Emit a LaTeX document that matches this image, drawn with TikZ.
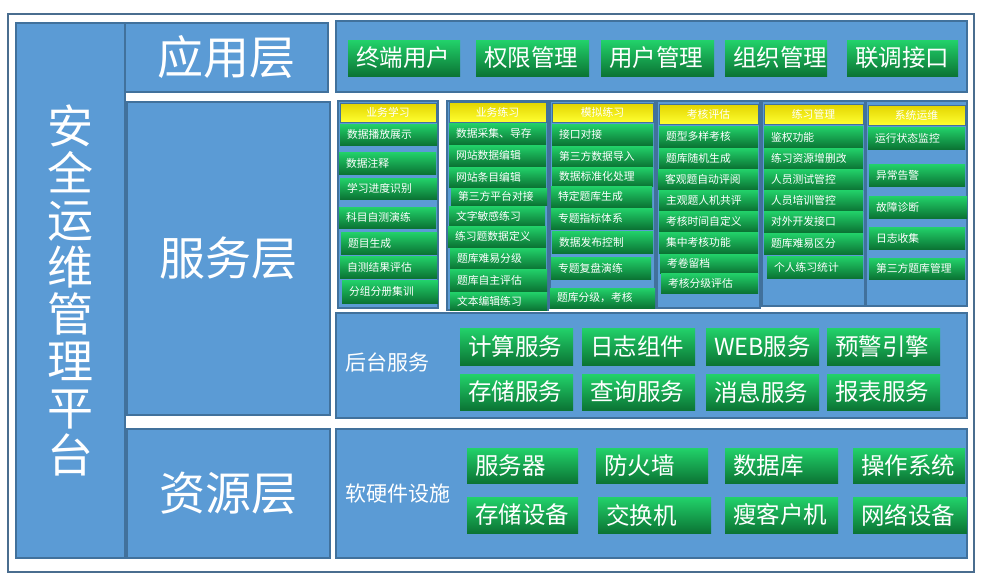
\documentclass[tikz,border=0pt]{standalone}
\usepackage{fontspec}
\setmainfont{Noto Sans CJK SC}
\definecolor{panel}{HTML}{5B9BD5}
\definecolor{pline}{HTML}{41719C}
\definecolor{frameline}{HTML}{4A6D8F}
\definecolor{gtop}{HTML}{22D26A}
\definecolor{gbot}{HTML}{0B7434}
\definecolor{ytop}{HTML}{E2D400}
\definecolor{ybot}{HTML}{FFFF30}
\tikzset{
  every node/.style={inner sep=0pt, outer sep=0pt},
  panelbox/.style={draw=pline, line width=1.6pt, fill=panel, text=white},
  colbox/.style={draw=pline, line width=1.6pt, fill=panel},
  greenbox/.style={top color=gtop, bottom color=gbot, text=white, align=left, inner xsep=8pt},
  itembox/.style={top color=gtop, bottom color=gbot, text=white, align=left, inner xsep=7pt,
    font=\fontsize{10.8}{12}\selectfont},
  headbox/.style={top color=ytop, bottom color=ybot, text=white, draw=pline, line width=0.6pt,
    font=\fontsize{10.8}{12}\selectfont},
  layerfont/.style={font=\fontsize{46}{50}\selectfont},
  labelfont/.style={text=white, font=\fontsize{21}{24}\selectfont}
}
% general box: style, name, x1, y1, x2, y2, text
\newcommand\mybx[7]{%
  \pgfmathsetmacro\mybw{#5-#3}\pgfmathsetmacro\mybh{#6-#4}%
  \node[#1, anchor=north west, minimum width=\mybw pt, minimum height=\mybh pt] (#2) at (#3,#4) {#7};}
% green button with left-aligned text: name, x1, y1, x2, y2, text
\newcommand\mygb[6]{%
  \pgfmathsetmacro\mybw{#4-#2-16}\pgfmathsetmacro\mybh{#5-#3}%
  \node[greenbox, font=\fontsize{23.5}{26}\selectfont, anchor=north west, text width=\mybw pt, minimum height=\mybh pt] (#1) at (#2,#3) {#6};}
% small column item: name, x1, y1, x2, y2, text
\newcommand\mygi[6]{%
  \pgfmathsetmacro\mybw{#4-#2-14}\pgfmathsetmacro\mybh{#5-#3}%
  \node[itembox, anchor=north west, text width=\mybw pt, minimum height=\mybh pt] (#1) at (#2,#3) {#6};}
\begin{document}
\begin{tikzpicture}[x=1pt,y=-1pt]
\fill[white] (0,0) rectangle (994,584);
\useasboundingbox (0,0) rectangle (994,584);
% outer frame
\draw[frameline, line width=2pt] (8,14) rectangle (974,572);
% left column and layer boxes
\mybx{panelbox, font=\fontsize{46}{47}\selectfont, align=center}{plat}{16}{23}{125}{558}{安\\全\\运\\维\\管\\理\\平\\台}
\mybx{panelbox, layerfont}{app}{125}{23}{328}{92}{应用层}
\mybx{panelbox, layerfont}{svc}{127}{102}{330}{415}{服务层}
\mybx{panelbox, layerfont}{res}{127}{429}{330}{558}{资源层}
% right panels
\mybx{panelbox}{apppanel}{336}{21}{967}{92}{}
\mybx{panelbox}{backpanel}{336}{313}{967}{418}{}
\mybx{panelbox}{respanel}{336}{429}{967}{558}{}
% application buttons
\mygb{a1}{348}{40}{460}{76}{终端用户}
\mygb{a2}{476}{40}{589}{76}{权限管理}
\mygb{a3}{601}{40}{714}{76}{用户管理}
\mygb{a4}{725}{40}{827}{76}{组织管理}
\mygb{a5}{847}{40}{958}{76}{联调接口}
% service columns
\mybx{colbox}{c1}{338}{101}{438}{308}{}
\mybx{colbox}{c2}{447}{101}{548}{310}{}
\mybx{colbox}{c3}{550}{101}{655}{308}{}
\mybx{colbox}{c4}{657}{101}{760}{308}{}
\mybx{colbox}{c5}{762}{101}{865}{306}{}
\mybx{colbox}{c6}{866}{101}{967}{306}{}
\mybx{headbox}{h1}{340}{103}{436}{122}{业务学习}
\mybx{headbox}{h2}{449}{102}{546}{122}{业务练习}
\mybx{headbox}{h3}{552}{103}{653}{122}{模拟练习}
\mybx{headbox}{h4}{659}{104}{758}{124}{考核评估}
\mybx{headbox}{h5}{764}{104}{863}{124}{练习管理}
\mybx{headbox}{h6}{868}{105}{965}{125}{系统运维}
% column 1
\mygi{i11}{340}{124}{437}{145}{数据播放展示}
\mygi{i12}{339}{152}{436}{174}{数据注释}
\mygi{i13}{340}{178}{437}{199}{学习进度识别}
\mygi{i14}{339}{207}{436}{228}{科目自测演练}
\mygi{i15}{341}{232}{437}{254}{题目生成}
\mygi{i16}{340}{256}{437}{278}{自测结果评估}
\mygi{i17}{342}{280}{438}{303}{分组分册集训}
% column 2
\mygi{i21}{449}{123}{546}{144}{数据采集、导存}
\mygi{i22}{449}{145}{546}{166}{网站数据编辑}
\mygi{i23}{449}{167}{546}{187}{网站条目编辑}
\mygi{i24}{451}{188}{547}{205}{第三方平台对接}
\mygi{i25}{449}{206}{545}{226}{文字敏感练习}
\mygi{i26}{448}{226}{546}{247}{练习题数据定义}
\mygi{i27}{450}{248}{546}{269}{题库难易分级}
\mygi{i28}{450}{269}{547}{291}{题库自主评估}
\mygi{i29}{450}{292}{547}{310}{文本编辑练习}
% column 3
\mygi{i31}{552}{124}{653}{145}{接口对接}
\mygi{i32}{552}{146}{653}{167}{第三方数据导入}
\mygi{i33}{552}{167}{653}{186}{数据标准化处理}
\mygi{i34}{551}{186}{652}{207}{特定题库生成}
\mygi{i35}{551}{208}{653}{229}{专题指标体系}
\mygi{i36}{552}{231}{653}{253}{数据发布控制}
\mygi{i37}{551}{257}{651}{279}{专题复盘演练}
\mygi{i38}{550}{288}{655}{308}{题库分级，考核}
% column 4
\mygi{i41}{659}{126}{758}{147}{题型多样考核}
\mygi{i42}{659}{148}{758}{168}{题库随机生成}
\mygi{i43}{658}{169}{758}{189}{客观题自动评阅}
\mygi{i44}{659}{190}{758}{210}{主观题人机共评}
\mygi{i45}{659}{211}{758}{231}{考核时间自定义}
\mygi{i46}{659}{232}{758}{253}{集中考核功能}
\mygi{i47}{660}{254}{758}{273}{考卷留档}
\mygi{i48}{661}{273}{758}{293}{考核分级评估}
% column 5
\mygi{i51}{764}{126}{863}{148}{鉴权功能}
\mygi{i52}{764}{148}{863}{169}{练习资源增删改}
\mygi{i53}{764}{169}{863}{190}{人员测试管控}
\mygi{i54}{764}{190}{863}{211}{人员培训管控}
\mygi{i55}{764}{211}{863}{232}{对外开发接口}
\mygi{i56}{764}{233}{863}{254}{题库难易区分}
\mygi{i57}{767}{256}{863}{278}{个人练习统计}
% column 6
\mygi{i61}{868}{127}{965}{149}{运行状态监控}
\mygi{i62}{869}{164}{965}{186}{异常告警}
\mygi{i63}{869}{196}{967}{218}{故障诊断}
\mygi{i64}{869}{227}{965}{249}{日志收集}
\mygi{i65}{869}{258}{965}{279}{第三方题库管理}
% backend services
\node[labelfont, anchor=west] (backlabel) at (345,362) {后台服务};
\mygb{b1}{460}{328}{573}{365}{计算服务}
\mygb{b2}{582}{328}{695}{365}{日志组件}
\mygb{b3}{706}{328}{819}{365}{WEB服务}
\mygb{b4}{827}{328}{940}{365}{预警引擎}
\mygb{b5}{460}{374}{573}{410}{存储服务}
\mygb{b6}{582}{374}{695}{410}{查询服务}
\mygb{b7}{706}{374}{819}{410}{消息服务}
\mygb{b8}{827}{374}{940}{410}{报表服务}
% resources
\node[labelfont, anchor=west] (reslabel) at (345,494) {软硬件设施};
\mygb{r1}{467}{448}{578}{483}{服务器}
\mygb{r2}{596}{448}{708}{483}{防火墙}
\mygb{r3}{725}{448}{838}{483}{数据库}
\mygb{r4}{853}{448}{965}{483}{操作系统}
\mygb{r5}{467}{497}{578}{533}{存储设备}
\mygb{r6}{598}{497}{711}{533}{交换机}
\mygb{r7}{725}{497}{838}{533}{瘦客户机}
\mygb{r8}{853}{497}{967}{533}{网络设备}
\end{tikzpicture}
\end{document}
